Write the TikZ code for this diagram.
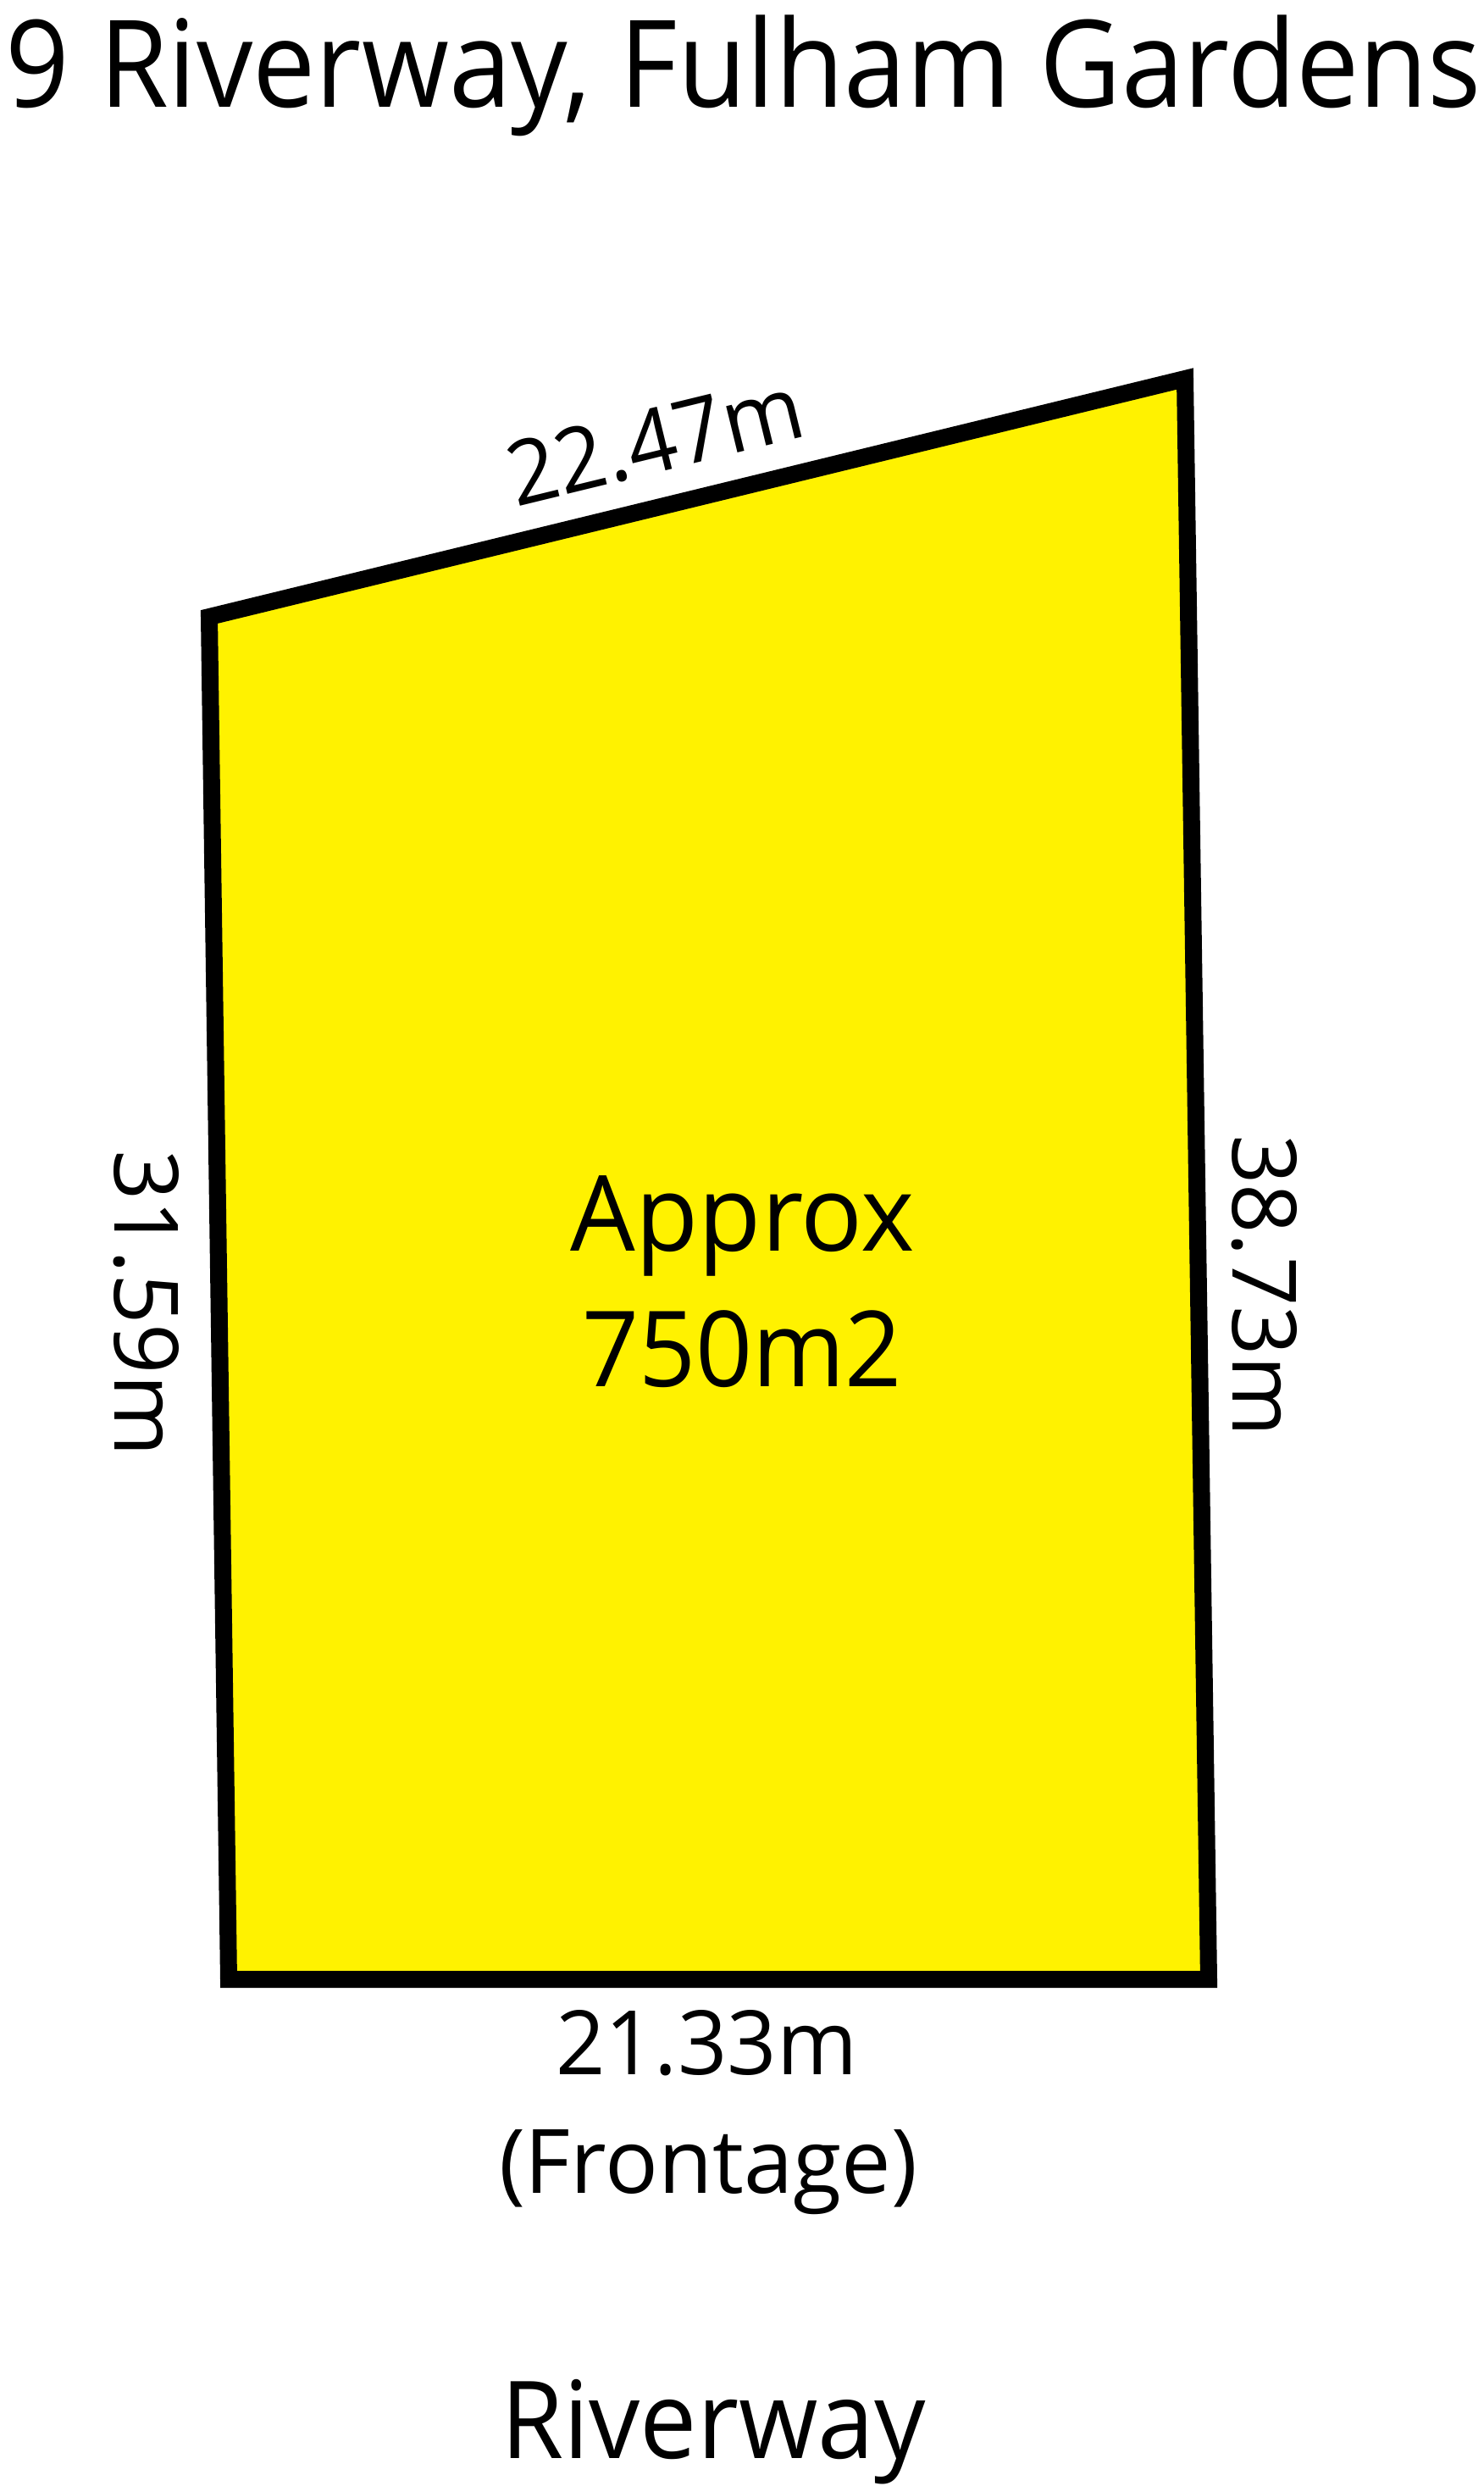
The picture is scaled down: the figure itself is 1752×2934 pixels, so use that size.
\documentclass[tikz,border=0pt]{standalone}
\usepackage{fontspec}
\setmainfont{Open Sans}
\definecolor{lotyellow}{RGB}{255,242,0}
\newcommand{\fitw}[2]{\resizebox{#1pt}{\height}{#2}}
\begin{document}
\begin{tikzpicture}[x=1pt,y=-1pt,
  lbl/.style={anchor=base,inner sep=0pt,outer sep=0pt,text=black},
  title/.style={lbl,font=\fontsize{143}{170}\selectfont},
  street/.style={lbl,font=\fontsize{127}{150}\selectfont},
  area/.style={lbl,font=\fontsize{124}{150}\selectfont},
  dim/.style={lbl,font=\fontsize{105}{130}\selectfont},
  boundary/.style={draw=black,line width=20pt,line join=miter,fill=lotyellow}]
\useasboundingbox[fill=white] (0,0) rectangle (1752,2934);
\coordinate (tl) at (247,728);
\coordinate (tr) at (1399,447);
\coordinate (br) at (1427,2336);
\coordinate (bl) at (270,2336);
\draw[boundary] (tl) -- (tr) -- (br) -- (bl) -- cycle;
\node[title] (t) at (878,126) {\fitw{1742}{9 Riverway, Fulham Gardens}};
\node[dim,rotate=13.7] (top) at (782,556) {\fitw{356}{22.47m}};
\node[dim,rotate=-90] (left) at (135,1538) {\fitw{362}{31.59m}};
\node[dim,rotate=-90] (right) at (1455,1517) {\fitw{356}{38.73m}};
\node[area] (a1) at (877,1476) {\fitw{406}{Approx}};
\node[area] (a2) at (876,1636) {\fitw{378}{750m2}};
\node[dim] (front) at (834,2448) {\fitw{356}{21.33m}};
\node[dim] (frontage) at (836,2588) {\fitw{494}{(Frontage)}};
\node[street] (road) at (842,2901) {\fitw{502}{Riverway}};
\end{tikzpicture}
\end{document}
